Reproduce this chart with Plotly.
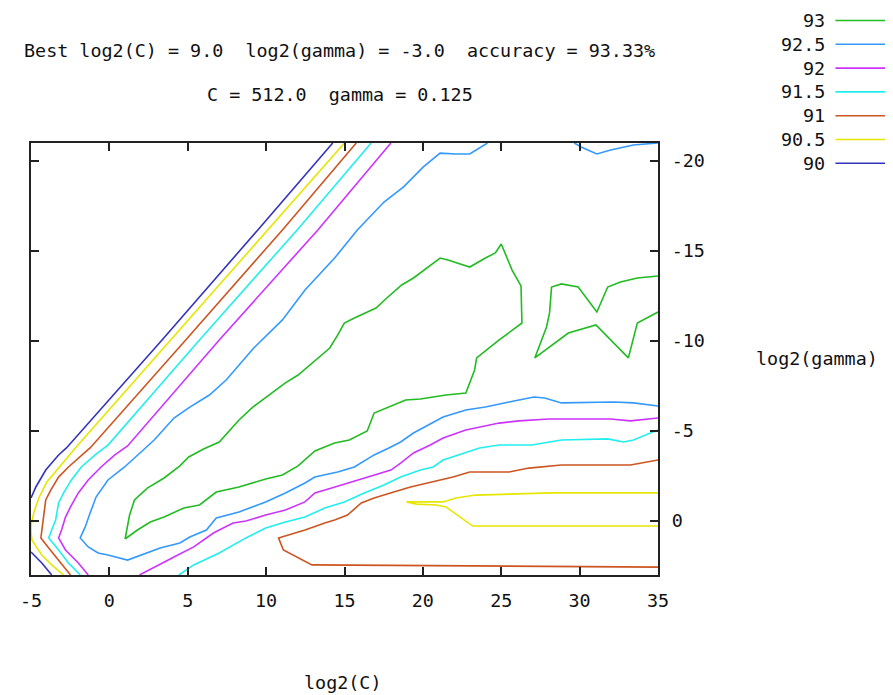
import plotly.graph_objects as go

# ---------------- data ----------------
levels = ["93", "92.5", "92", "91.5", "91", "90.5", "90"]
level_colors = ["#22bb22", "#3399ff", "#cc33ff", "#22eeee", "#cc5522", "#e6e600", "#3333bb"]

x_ticks = [-5, 0, 5, 10, 15, 20, 25, 30, 35]
x_tick_text = ["-5", "0", "5", "10", "15", "20", "25", "30", "35"]
y_ticks = [-20, -15, -10, -5, 0]
y_tick_text = ["-20", "-15", "-10", "-5", "0"]

best_text = "Best log2(C) = 9.0  log2(gamma) = -3.0  accuracy = 93.33%"
best_text2 = "C = 512.0  gamma = 0.125"
x_title = "log2(C)"
y_title = "log2(gamma)"

# contour 93
c93_a_x = [1.0, 1.29, 1.60, 2.42, 3.49, 4.50, 5.06, 6.01, 7.01, 8.27, 9.15, 10.41, 11.23, 12.04, 12.92,
           14.06, 14.56, 14.99, 15.63, 17.01, 17.70, 18.65, 19.40, 21.10, 21.60, 22.99, 23.99, 24.62, 25.0,
           25.69, 26.26, 26.32, 24.87, 23.43, 23.30, 22.99, 22.74, 21.48, 19.84, 18.90, 18.14, 16.89, 16.45,
           15.31, 14.37, 13.11, 12.04, 11.04, 9.97, 8.27, 6.82, 5.75, 4.75, 3.49, 2.61, 1.79, 1.0]
c93_a_y = [1.0, -0.33, -1.17, -1.83, -2.39, -3.06, -3.56, -4.0, -4.39, -5.61, -6.33, -7.17, -7.67, -8.11, -8.78,
           -9.61, -10.33, -11.0, -11.28, -11.83, -12.39, -13.11, -13.5, -14.61, -14.5, -14.11, -14.61, -14.89, -15.39,
           -13.94, -13.06, -11.0, -10.06, -9.06, -8.39, -7.67, -7.11, -7.0, -6.78, -6.72, -6.44, -6.0, -5.0,
           -4.5, -4.33, -3.89, -3.06, -2.56, -2.33, -1.89, -1.61, -0.89, -0.72, -0.22, 0.06, 0.5, 1.0]
c93_b_x = [35, 33.68, 32.61, 31.79, 31.10, 29.91, 28.84, 28.21, 28.08, 27.89, 27.14, 28.08, 29.28, 31.04, 33.11, 33.68, 35]
c93_b_y = [-13.61, -13.5, -13.28, -13.0, -11.61, -13.0, -13.17, -13.0, -11.56, -10.78, -9.06, -9.67, -10.44, -10.89, -9.06, -11.0, -11.61]

# contour 92.5
c925_a_x = [24.12, 23.62, 22.99, 22.11, 21.10, 20.03, 18.77, 17.52, 15.82, 14.37, 12.48, 11.04, 9.21, 7.45, 6.38,
            5.13, 4.12, 2.86, 1.98, 0.97, -0.09, -0.85, -1.23, -1.54, -1.86, -1.35, -0.72, -0.09, 1.16, 1.98,
            3.24, 4.50, 5.13, 6.19, 6.82, 8.27, 9.97, 11.23, 12.48, 13.11, 14.56, 15.63, 16.89, 17.83, 18.58,
            19.40, 20.66, 21.29, 22.74, 23.99, 25.50, 27.08, 27.77, 28.84, 32.17, 33.43, 35]
c925_a_y = [-21, -20.72, -20.39, -20.39, -20.44, -19.67, -18.56, -17.72, -16.17, -14.61, -12.83, -11.17, -9.61, -7.83, -7.0,
            -6.33, -5.72, -4.5, -3.78, -3.0, -2.28, -1.33, -0.44, 0.33, 0.94, 1.44, 1.78, 1.89, 2.17, 1.89,
            1.5, 1.22, 0.89, 0.5, -0.17, -0.5, -1.06, -1.56, -2.11, -2.44, -2.72, -3.0, -3.67, -4.06, -4.39,
            -4.89, -5.5, -5.78, -6.17, -6.33, -6.61, -6.89, -6.83, -6.56, -6.61, -6.56, -6.39]
c925_b_x = [29.66, 30.09, 31.10, 31.98, 33.43, 34.31, 35]
c925_b_y = [-21, -20.78, -20.39, -20.61, -20.89, -20.94, -21]

# contour 92
c92_a_x = [17.96, 13.30, 7.01, 1.16, 0.35, -0.53, -1.35, -1.98, -2.48, -2.80, -3.05, -3.24, -2.80, -1.98, -1.35]
c92_a_y = [-21, -16.17, -10.06, -4.17, -3.67, -3.0, -2.28, -1.56, -0.78, -0.22, 0.5, 0.94, 1.61, 2.33, 3]
c92_b_x = [1.92, 2.86, 4.12, 5.38, 6.64, 7.89, 8.71, 9.97, 11.23, 12.48, 13.11, 14.18, 15.63, 16.89, 17.96,
           18.58, 19.40, 20.47, 21.29, 22.74, 23.62, 24.87, 26.13, 28.02, 31.98, 33.24, 35]
c92_b_y = [3, 2.56, 2.0, 1.44, 0.67, 0.11, 0.0, -0.33, -0.61, -1.06, -1.56, -1.83, -2.22, -2.56, -2.83,
           -3.22, -3.78, -4.22, -4.61, -5.06, -5.22, -5.44, -5.56, -5.67, -5.67, -5.56, -5.72]

# contour 91.5
c915_a_x = [16.70, 11.98, 5.75, -0.09, -0.91, -1.79, -2.42, -2.92, -3.24, -3.43, -3.68, -3.87, -3.24, -2.61, -1.86]
c915_a_y = [-21, -16.17, -10.06, -4.22, -3.67, -3.0, -2.28, -1.56, -1.0, -0.06, 0.5, 0.94, 1.61, 2.33, 3]
c915_b_x = [4.43, 5.38, 7.01, 8.71, 9.97, 11.23, 12.48, 13.74, 14.99, 16.26, 17.52, 18.58, 19.84, 20.66, 21.29,
            22.74, 23.62, 24.87, 26.95, 28.84, 31.79, 32.80, 33.43, 35]
c915_b_y = [3, 2.44, 1.78, 0.94, 0.39, 0.06, -0.22, -0.72, -1.06, -1.56, -2.0, -2.44, -2.83, -3.0, -3.39,
            -3.83, -4.06, -4.22, -4.22, -4.5, -4.56, -4.39, -4.5, -5.06]

# contour 91
c91_a_x = [15.75, 11.04, 4.87, -1.23, -1.54, -2.61, -3.24, -3.74, -4.06, -4.18, -4.31, -4.37, -3.87, -3.24, -2.48]
c91_a_y = [-21, -16.17, -10.06, -4.06, -3.83, -3.0, -2.44, -1.72, -1.17, -0.44, 0.33, 0.94, 1.5, 2.17, 3]
c91_b_x = [35, 33.24, 28.84, 26.76, 25.50, 22.99, 21.92, 20.66, 19.21, 18.14, 16.89, 16.07, 15.19, 14.37, 13.74,
           12.48, 10.79, 11.10, 12.92, 35]
c91_b_y = [-3.39, -3.11, -3.11, -2.94, -2.72, -2.72, -2.44, -2.17, -1.89, -1.61, -1.28, -1.0, -0.33, -0.06, 0.11,
           0.5, 0.94, 1.61, 2.44, 2.56]

# contour 90.5
c905_a_x = [15.0, 10.09, 3.93, -2.17, -3.24, -3.99, -4.5, -4.81, -5, -5, -4.94, -4.31, -3.68, -2.92]
c905_a_y = [-21, -16.17, -10.06, -4.06, -2.94, -2.17, -1.28, -0.5, 0.22, 0.61, 1.06, 1.89, 2.44, 3]
c905_b_x = [35, 28.21, 23.36, 22.11, 21.29, 18.96, 19.59, 20.85, 21.48, 23.18, 35]
c905_b_y = [-1.56, -1.56, -1.44, -1.28, -1.06, -1.06, -0.94, -0.89, -0.78, 0.28, 0.28]

# contour 90
c90_a_x = [14.25, 9.47, 3.36, -2.74, -3.24, -4.06, -4.69, -5]
c90_a_y = [-21, -16.17, -10.06, -4.06, -3.67, -2.83, -1.89, -1.28]
c90_b_x = [-5, -4.31, -3.68]
c90_b_y = [1.72, 2.33, 3]

segments = {
    "93": [(c93_a_x, c93_a_y), (c93_b_x, c93_b_y)],
    "92.5": [(c925_a_x, c925_a_y), (c925_b_x, c925_b_y)],
    "92": [(c92_a_x, c92_a_y), (c92_b_x, c92_b_y)],
    "91.5": [(c915_a_x, c915_a_y), (c915_b_x, c915_b_y)],
    "91": [(c91_a_x, c91_a_y), (c91_b_x, c91_b_y)],
    "90.5": [(c905_a_x, c905_a_y), (c905_b_x, c905_b_y)],
    "90": [(c90_a_x, c90_a_y), (c90_b_x, c90_b_y)],
}

# ---------------- layout geometry (page pixels) ----------------
PAGE_W, PAGE_H = 893, 695
OFF = 8                      # default body margin of the html page
W, H = PAGE_W - OFF, PAGE_H - OFF
L, R, T, B = 22, 658, 143, 575   # plot area in page pixels
FONT = "DejaVu Sans Mono"
FS = 18.4
TXT = "#111111"


def px(xp):
    return (xp - L) / (R - L)


def py(yp):
    return (B - yp) / (B - T)


fig = go.Figure()
for lev, col in zip(levels, level_colors):
    for sx, sy in segments[lev]:
        fig.add_trace(go.Scatter(x=sx, y=sy, mode="lines",
                                 line=dict(color=col, width=1.6),
                                 showlegend=False, hoverinfo="skip"))

annotations = []
shapes = []


def nb(s):
    return s.replace(" ", "\u00a0")


def label(text, xp, yp, anchor="center"):
    annotations.append(dict(text=nb(text), x=px(xp), y=py(yp), xref="paper", yref="paper",
                            showarrow=False, xanchor=anchor, yanchor="middle", borderpad=0,
                            font=dict(family=FONT, size=FS, color=TXT)))


label(best_text, 335, 50)
label(best_text2, 335, 95)
label(x_title, 338, 682)
label(y_title, 819, 358)

# manual key (gnuplot style: label then line sample)
for i, (lev, col) in enumerate(zip(levels, level_colors)):
    yk = 20.5 + i * 23.8
    label(lev, 828, yk, anchor="right")
    shapes.append(dict(type="line", xref="paper", yref="paper",
                       x0=px(838), x1=px(891), y0=py(yk), y1=py(yk),
                       line=dict(color=col, width=1.6)))

axis_common = dict(ticks="inside", ticklen=8, tickwidth=1.5, tickcolor="#222222",
                   showline=True, linecolor="#222222", linewidth=2, mirror="ticks",
                   showgrid=False, zeroline=False, ticklabelstandoff=8,
                   tickfont=dict(family=FONT, size=FS, color=TXT))

fig.update_layout(
    width=W, height=H,
    margin=dict(l=L - OFF, r=W - (R - OFF), t=T - OFF, b=H - (B - OFF), pad=0),
    paper_bgcolor="white", plot_bgcolor="white",
    showlegend=False,
    annotations=annotations,
    shapes=shapes,
    xaxis=dict(range=[-5, 35], tickvals=x_ticks, ticktext=x_tick_text, **axis_common),
    yaxis=dict(range=[3, -21], tickvals=y_ticks, ticktext=y_tick_text, side="right", **axis_common),
)

fig.write_html("out.html")
